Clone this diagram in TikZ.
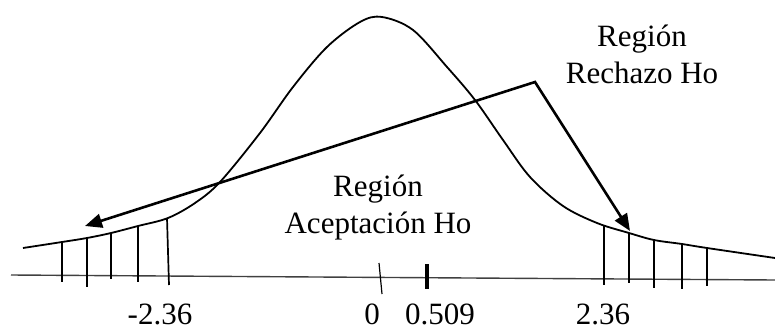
\documentclass[tikz,border=0pt]{standalone}
\usepackage{fontspec}
\setmainfont{Liberation Serif}
\usetikzlibrary{arrows.meta}
\tikzset{
  lbl/.style={font=\fontsize{31}{37}\selectfont, inner sep=0pt},
  curve/.style={line width=1.8pt, line join=round},
  tick/.style={line width=1.7pt},
  axisline/.style={line width=1.4pt, black!75},
  pointer/.style={line width=2.6pt, line join=miter, {Triangle[length=17pt,width=14pt]}-{Triangle[length=17pt,width=14pt]}}
}
\begin{document}
\begin{tikzpicture}[x=1pt,y=-1pt]
\useasboundingbox (0,0) rectangle (775,329);
% axis
\draw[axisline] (11,275) -- (775,280);
% bell curve
\draw[curve] plot[smooth, tension=0.55] coordinates {
 (23,248) (62,242) (87,238) (111,233) (138,226) (168,218) (195,203) (220,182)
 (260,133) (293,87) (327,47) (360,22) (382,17) (413,30) (447,67) (475,100)
 (503,140) (530,177) (563,206) (597,223) (629,233) (654,240) (682,244) (707,248) (775,258)};
% left rejection ticks
\draw[tick] (62,242) -- (62,282);
\draw[tick] (87,238) -- (87,287);
\draw[tick] (111,233) -- (111,279);
\draw[tick] (138,226) -- (138,282);
\draw[tick] (167,218) -- (169,285);
% right rejection ticks
\draw[tick] (604,225) -- (604,285);
\draw[tick] (629,233) -- (629,283);
\draw[tick] (654,240) -- (654,288);
\draw[tick] (682,244) -- (682,289);
\draw[tick] (707,248) -- (707,286);
% zero and statistic marks
\draw[line width=1.2pt] (379,263) -- (382,294);
\draw[line width=4pt] (427,264) -- (427,289);
% labels
\node[lbl, align=center, anchor=base] (rech) at (642,83) {Región\\Rechazo Ho};
\node[lbl, align=center, anchor=base] (acep) at (378,233) {Región\\Aceptación Ho};
\node[lbl, anchor=base] (lneg) at (160,324) {-2.36};
\node[lbl, anchor=base] (lzero) at (372,324) {0};
\node[lbl, anchor=base] (lstat) at (440,324) {0.509};
\node[lbl, anchor=base] (lpos) at (603,324) {2.36};
% pointer
\coordinate (v) at (535,82);
\coordinate (tl) at (85,226);
\coordinate (tr) at (630,231);
\draw[pointer] (tl) -- (v) -- (tr);
\end{tikzpicture}
\end{document}
